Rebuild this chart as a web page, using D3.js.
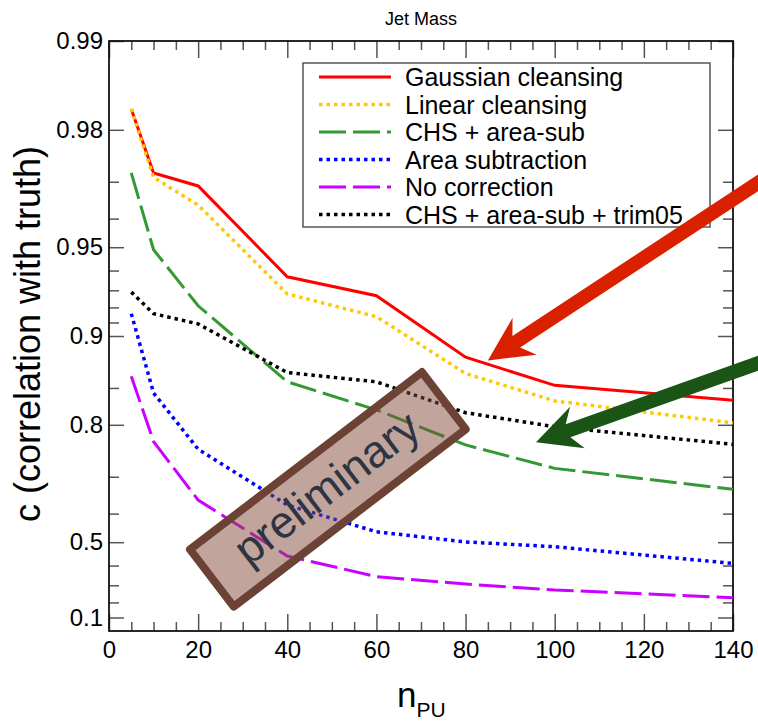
<!DOCTYPE html>
<html>
<head>
<meta charset="utf-8">
<script src="https://cdn.jsdelivr.net/npm/d3@7"></script>
<style>
  body { margin: 0; background: #fff; }
  text { font-family: "Liberation Sans", Arial, Helvetica, sans-serif; }
</style>
</head>
<body>
<div id="chart"></div>
<script>
// n_PU values (x)
const nPU = [5, 10, 20, 40, 60, 80, 100, 140];

// correlation with truth, one array per method
const gaussianCleansing = [0.983, 0.972, 0.969, 0.937, 0.927, 0.882, 0.853, 0.835];
const linearCleansing   = [0.983, 0.971, 0.964, 0.928, 0.914, 0.866, 0.834, 0.803];
const chsAreaSub        = [0.972, 0.949, 0.921, 0.857, 0.822, 0.766, 0.719, 0.669];
const areaSubtraction   = [0.916, 0.844, 0.758, 0.626, 0.539, 0.501, 0.482, 0.410];
const noCorrection      = [0.863, 0.772, 0.640, 0.443, 0.346, 0.307, 0.274, 0.229];
const chsAreaSubTrim    = [0.929, 0.916, 0.909, 0.867, 0.857, 0.818, 0.797, 0.767];

const seriesNames = ["Gaussian cleansing", "Linear cleansing", "CHS + area-sub",
                     "Area subtraction", "No correction", "CHS + area-sub + trim05"];

// axis ticks
const xMajorTicks = [0, 20, 40, 60, 80, 100, 120, 140];
const xMinorTicks = d3.range(5, 140, 5).filter(v => v % 20 !== 0);
const yMajorTicks = [0.99, 0.98, 0.95, 0.9, 0.8, 0.5, 0.1];
const yTickLabels = ["0.99", "0.98", "0.95", "0.9", "0.8", "0.5", "0.1"];
const yMinorTicks = [0.97, 0.96, 0.94, 0.93, 0.92, 0.91, 0.85, 0.7, 0.6, 0.4, 0.3, 0.2];

const W = 758, H = 721;
const margin = { top: 41, right: 25, bottom: 90, left: 109 };

const svg = d3.select("#chart").append("svg")
    .attr("width", W)
    .attr("height", H);

const x = d3.scaleLinear().domain([0, 140]).range([margin.left, W - margin.right]);
// y axis is linear in -log10(1 - c)
const y1m = d3.scaleLog().domain([1, 0.01]).range([H - margin.bottom, margin.top]);
const yc = c => y1m(1 - c);

const x0 = margin.left, x1 = W - margin.right;
const yB = H - margin.bottom, yT = margin.top;

// title
svg.append("text")
    .attr("x", 421).attr("y", 25)
    .attr("text-anchor", "middle")
    .style("font-size", "18px")
    .text("Jet Mass");

// ticks: bottom / top
function styleAxis(g) {
  g.select(".domain").remove();
  g.selectAll(".tick line").attr("stroke", "#555").attr("stroke-width", 1.5);
  g.selectAll(".tick text").style("font-size", "24px").attr("fill", "#000");
}

svg.append("g")
    .attr("transform", `translate(0,${yB})`)
    .call(d3.axisBottom(x).tickValues(xMajorTicks).tickSizeInner(-17).tickSizeOuter(0).tickPadding(10))
    .call(styleAxis)
    .attr("font-family", null);
svg.append("g")
    .attr("transform", `translate(0,${yB})`)
    .call(d3.axisBottom(x).tickValues(xMinorTicks).tickSizeInner(-9).tickSizeOuter(0).tickFormat(""))
    .call(styleAxis);
svg.append("g")
    .attr("transform", `translate(0,${yT})`)
    .call(d3.axisTop(x).tickValues(xMajorTicks).tickSizeInner(-17).tickSizeOuter(0).tickFormat(""))
    .call(styleAxis);
svg.append("g")
    .attr("transform", `translate(0,${yT})`)
    .call(d3.axisTop(x).tickValues(xMinorTicks).tickSizeInner(-9).tickSizeOuter(0).tickFormat(""))
    .call(styleAxis);

// ticks: left / right
svg.append("g")
    .attr("transform", `translate(${x0},0)`)
    .call(d3.axisLeft(y1m).tickValues(yMajorTicks.map(c => 1 - c)).tickSizeInner(-15).tickSizeOuter(0)
      .tickPadding(6).tickFormat((d, i) => yTickLabels[i]))
    .call(styleAxis)
    .attr("font-family", null);
svg.append("g")
    .attr("transform", `translate(${x0},0)`)
    .call(d3.axisLeft(y1m).tickValues(yMinorTicks.map(c => 1 - c)).tickSizeInner(-10).tickSizeOuter(0).tickFormat(""))
    .call(styleAxis);
svg.append("g")
    .attr("transform", `translate(${x1},0)`)
    .call(d3.axisRight(y1m).tickValues(yMajorTicks.map(c => 1 - c)).tickSizeInner(-15).tickSizeOuter(0).tickFormat(""))
    .call(styleAxis);
svg.append("g")
    .attr("transform", `translate(${x1},0)`)
    .call(d3.axisRight(y1m).tickValues(yMinorTicks.map(c => 1 - c)).tickSizeInner(-10).tickSizeOuter(0).tickFormat(""))
    .call(styleAxis);

// frame
svg.append("rect")
    .attr("x", x0).attr("y", yT)
    .attr("width", x1 - x0).attr("height", yB - yT)
    .attr("fill", "none")
    .attr("stroke", "#111")
    .attr("stroke-width", 1.8);

// axis labels
const xl = svg.append("text")
    .attr("x", 397).attr("y", 707)
    .style("font-size", "35px");
xl.append("tspan").text("n");
xl.append("tspan").attr("dy", 10).style("font-size", "21px").text("PU");

svg.append("text")
    .attr("transform", "translate(40,334) rotate(-90)")
    .attr("text-anchor", "middle")
    .style("font-size", "36px")
    .text("c (correlation with truth)");

// lines
const allSeries = [gaussianCleansing, linearCleansing, chsAreaSub, areaSubtraction, noCorrection, chsAreaSubTrim];
const colors = ["#ff0000", "#ffc800", "#339933", "#0000ff", "#cc00ff", "#000000"];
const dashes = [null, "3.5,4", "27,7", "3.5,4", "27,7", "3.5,4"];
const widths = [3, 3.5, 3, 3.5, 3, 3.5];

const line = d3.line()
    .x(d => x(d.n))
    .y(d => yc(d.c));

const plot = svg.append("g");
allSeries.forEach((vals, i) => {
  plot.append("path")
      .datum(nPU.map((n, j) => ({ n: n, c: vals[j] })))
      .attr("d", line)
      .attr("fill", "none")
      .attr("stroke", colors[i])
      .attr("stroke-width", widths[i])
      .attr("stroke-dasharray", dashes[i]);
});

// legend
const lg = svg.append("g");
lg.append("rect")
    .attr("x", 303).attr("y", 63)
    .attr("width", 407).attr("height", 164)
    .attr("fill", "#fff")
    .attr("stroke", "#555")
    .attr("stroke-width", 1.5);
seriesNames.forEach((name, i) => {
  const yy = 77 + i * 27.5;
  lg.append("line")
      .attr("x1", 319).attr("x2", 391)
      .attr("y1", yy).attr("y2", yy)
      .attr("stroke", colors[i])
      .attr("stroke-width", widths[i])
      .attr("stroke-dasharray", dashes[i]);
  lg.append("text")
      .attr("x", 405).attr("y", yy)
      .attr("dy", "0.36em")
      .style("font-size", "25px")
      .text(name);
});

// preliminary stamp
const stamp = svg.append("g")
    .attr("transform", `translate(${x(49.1)},${yc(0.669)}) rotate(-37.4)`);
stamp.append("rect")
    .attr("x", -146).attr("y", -36)
    .attr("width", 292).attr("height", 72)
    .attr("fill", "rgb(131,75,59)")
    .attr("fill-opacity", 0.5)
    .attr("stroke", "#6b4234")
    .attr("stroke-width", 8)
    .attr("stroke-linejoin", "round");
stamp.append("text")
    .attr("x", 0).attr("y", 0)
    .attr("dy", "0.3em")
    .attr("text-anchor", "middle")
    .style("font-size", "45px")
    .attr("fill", "#2e3440")
    .text("preliminary");

// arrows (tip and tail in data coordinates)
const arrows = [
  { tip: [85.0, 0.879], tail: [150.6, 0.973], color: "#d92100" },
  { tip: [95.8, 0.771], tail: [150.8, 0.884], color: "#1b5516" }
];
arrows.forEach(a => {
  const T = [x(a.tip[0]), yc(a.tip[1])];
  const P = [x(a.tail[0]), yc(a.tail[1])];
  const len = Math.hypot(P[0] - T[0], P[1] - T[1]);
  const u = [(P[0] - T[0]) / len, (P[1] - T[1]) / len];
  const v = [-u[1], u[0]];
  const hl = 44, hw = 22, sw = 7, join = 34;
  const pt = (s, t) => [T[0] + u[0] * s + v[0] * t, T[1] + u[1] * s + v[1] * t];
  const pts = [
    T, pt(hl, hw), pt(join, sw), pt(len, sw), pt(len, -sw), pt(join, -sw), pt(hl, -hw)
  ];
  svg.append("path")
      .attr("d", "M" + pts.map(p => p.join(",")).join("L") + "Z")
      .attr("fill", a.color);
});
</script>
</body>
</html>
